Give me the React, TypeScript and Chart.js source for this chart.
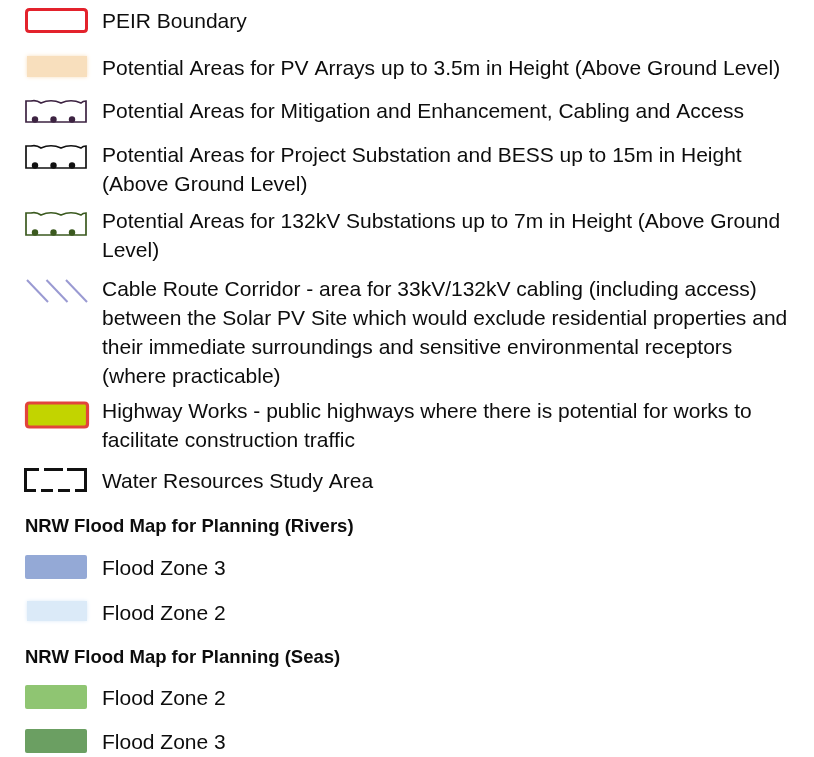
import React, { useEffect, useRef } from "react";
import { Chart, registerables } from "chart.js";

Chart.register(...registerables);

// ---- legend content (data) ----
const entryLabels: string[][] = [
  ["PEIR Boundary"],
  ["Potential Areas for PV Arrays up to 3.5m in Height (Above Ground Level)"],
  ["Potential Areas for Mitigation and Enhancement, Cabling and Access"],
  ["Potential Areas for Project Substation and BESS up to 15m in Height", "(Above Ground Level)"],
  ["Potential Areas for 132kV Substations up to 7m in Height (Above Ground", "Level)"],
  [
    "Cable Route Corridor - area for 33kV/132kV cabling (including access)",
    "between the Solar PV Site which would exclude residential properties and",
    "their immediate surroundings and sensitive environmental receptors",
    "(where practicable)",
  ],
  ["Highway Works - public highways where there is potential for works to", "facilitate construction traffic"],
  ["Water Resources Study Area"],
  ["NRW Flood Map for Planning (Rivers)"],
  ["Flood Zone 3"],
  ["Flood Zone 2"],
  ["NRW Flood Map for Planning (Seas)"],
  ["Flood Zone 2"],
  ["Flood Zone 3"],
];

const entryKinds: string[] = [
  "outline", "soft", "scallop", "scallop", "scallop", "hatch", "highway", "dashed",
  "header", "fill", "soft", "header", "fill", "fill",
];

const entryFill: string[] = [
  "#ffffff", "#f8dfbd", "#ffffff", "#ffffff", "#ffffff", "", "#c2d400", "#ffffff",
  "", "#94a9d6", "#dbeaf8", "", "#8fc572", "#6b9f62",
];

const entryStroke: string[] = [
  "#e3222c", "", "#3d2342", "#111111", "#3b5a1f", "#9a9ad2", "#e2443c", "#111111",
  "", "", "", "", "", "",
];

// ---- layout (positions in px) ----
const TEXT_X = 102;
const HEADER_X = 25;
const LINE_H = 29;
const FIRST_BASELINE = [27.5, 75, 118, 162, 228, 295.5, 418, 488, 532, 575, 620, 663, 705, 749];
const SW_TOP = [9, 56, 100, 145, 212, 280, 402, 468, 0, 555, 601, 0, 685, 729];
const SW_BOT = [32, 77, 122, 168, 235, 302, 428, 492, 0, 579, 621, 0, 709, 753];

function roundRect(ctx: CanvasRenderingContext2D, x: number, y: number, w: number, h: number, r: number) {
  ctx.beginPath();
  ctx.moveTo(x + r, y);
  ctx.lineTo(x + w - r, y);
  ctx.quadraticCurveTo(x + w, y, x + w, y + r);
  ctx.lineTo(x + w, y + h - r);
  ctx.quadraticCurveTo(x + w, y + h, x + w - r, y + h);
  ctx.lineTo(x + r, y + h);
  ctx.quadraticCurveTo(x, y + h, x, y + h - r);
  ctx.lineTo(x, y + r);
  ctx.quadraticCurveTo(x, y, x + r, y);
  ctx.closePath();
}

const legendPlugin = {
  id: "mapLegend",
  afterDraw(chart: any) {
    const ctx: CanvasRenderingContext2D = chart.ctx;
    ctx.save();
    ctx.fillStyle = "#ffffff";
    ctx.fillRect(0, 0, chart.width, chart.height);

    entryLabels.forEach((lines, i) => {
      const kind = entryKinds[i];
      const t = SW_TOP[i];
      const b = SW_BOT[i];
      const x0 = 26;
      const x1 = 87;
      const fill = entryFill[i];
      const stroke = entryStroke[i];

      ctx.save();
      if (kind === "outline") {
        roundRect(ctx, x0 + 0.5, t + 0.5, x1 - x0 - 1, b - t - 1, 3);
        ctx.fillStyle = fill;
        ctx.fill();
        ctx.lineWidth = 3;
        ctx.strokeStyle = stroke;
        ctx.stroke();
      } else if (kind === "soft") {
        ctx.shadowColor = fill;
        ctx.shadowBlur = 4;
        ctx.fillStyle = fill;
        ctx.fillRect(x0 + 1, t, x1 - x0 - 1, b - t);
      } else if (kind === "fill") {
        roundRect(ctx, x0 - 1, t, x1 - x0 + 1, b - t, 2);
        ctx.fillStyle = fill;
        ctx.fill();
      } else if (kind === "scallop") {
        const L = x0, R = x1 - 1;
        ctx.strokeStyle = stroke;
        ctx.lineWidth = 1.7;
        ctx.beginPath();
        ctx.moveTo(L, t + 1);
        ctx.lineTo(L + 5, t + 1);
        ctx.quadraticCurveTo(L + 10, t - 0.5, L + 15, t + 3);
        ctx.quadraticCurveTo(L + 25, t - 1.5, L + 35, t + 3);
        ctx.quadraticCurveTo(L + 45, t - 1.5, L + 55, t + 3);
        ctx.quadraticCurveTo(L + 57, t + 1, R, t + 1);
        ctx.lineTo(R, b);
        ctx.lineTo(L, b);
        ctx.closePath();
        ctx.stroke();
        ctx.fillStyle = stroke;
        for (let k = 0; k < 3; k++) {
          ctx.beginPath();
          ctx.arc(L + 9 + k * 18.5, b - 2.5, 3.2, 0, Math.PI * 2);
          ctx.fill();
        }
      } else if (kind === "hatch") {
        ctx.strokeStyle = stroke;
        ctx.lineWidth = 2;
        for (let k = 0; k < 3; k++) {
          const sx = 27 + k * 19.5;
          ctx.beginPath();
          ctx.moveTo(sx, t);
          ctx.lineTo(sx + 21, b);
          ctx.stroke();
        }
      } else if (kind === "highway") {
        roundRect(ctx, x0 + 0.5, t + 1, x1 - x0, b - t - 2, 3);
        ctx.fillStyle = fill;
        ctx.fill();
        ctx.lineWidth = 3.2;
        ctx.strokeStyle = stroke;
        ctx.stroke();
      } else if (kind === "dashed") {
        const L = 25.5, R = 85.5;
        ctx.strokeStyle = stroke;
        ctx.lineWidth = 3;
        ctx.beginPath();
        ctx.moveTo(L, t + 1.5);
        ctx.lineTo(L, b - 1.5);
        ctx.moveTo(R, t + 1.5);
        ctx.lineTo(R, b - 1.5);
        ctx.stroke();
        ctx.setLineDash([15, 5, 19, 4, 20]);
        ctx.beginPath();
        ctx.moveTo(L - 1.5, t + 1.5);
        ctx.lineTo(R + 1.5, t + 1.5);
        ctx.stroke();
        ctx.setLineDash([12, 5]);
        ctx.beginPath();
        ctx.moveTo(L - 1.5, b - 1.5);
        ctx.lineTo(R + 1.5, b - 1.5);
        ctx.stroke();
      }
      ctx.restore();

      ctx.fillStyle = "#0d0d0d";
      ctx.textBaseline = "alphabetic";
      ctx.textAlign = "left";
      if (kind === "header") {
        ctx.font = "bold 18.5px 'Liberation Sans', Arial, sans-serif";
        ctx.fillText(lines[0], HEADER_X, FIRST_BASELINE[i]);
      } else {
        ctx.font = "21px 'Liberation Sans', Arial, sans-serif";
        lines.forEach((ln, j) => {
          ctx.fillText(ln, TEXT_X, FIRST_BASELINE[i] + j * LINE_H);
        });
      }
    });
    ctx.restore();
  },
};

export default function App() {
  const ref = useRef<HTMLCanvasElement | null>(null);
  useEffect(() => {
    if (!ref.current) return;
    const chart = new Chart(ref.current, {
      type: "scatter",
      data: { datasets: [] },
      options: {
        animation: false,
        responsive: false,
        devicePixelRatio: 1,
        layout: { padding: 0 },
        scales: { x: { display: false }, y: { display: false } },
        plugins: { legend: { display: false }, tooltip: { enabled: false } },
      },
      plugins: [legendPlugin],
    });
    return () => chart.destroy();
  }, []);
  return (
    <div style={{ position: "fixed", left: 0, top: 0, width: 814, height: 757, background: "#fff" }}>
      <canvas ref={ref} width={814} height={757} style={{ display: "block" }} />
    </div>
  );
}
